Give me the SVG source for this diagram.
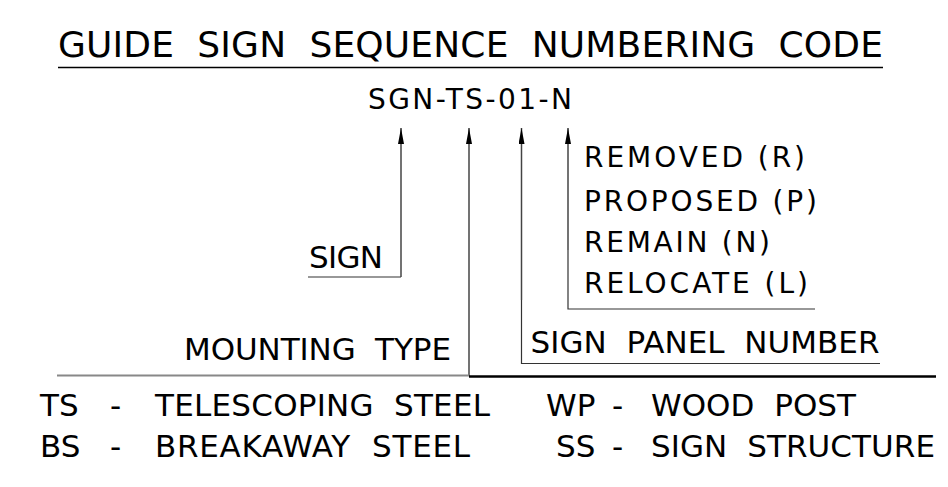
<svg xmlns="http://www.w3.org/2000/svg" width="948" height="487" viewBox="0 0 948 487">
<defs>
<marker id="ah" viewBox="0 0 16 6" refX="16" refY="3" markerWidth="16" markerHeight="6" markerUnits="userSpaceOnUse" orient="auto">
<path d="M0,0 L16,3 L0,6 Z" fill="#000"/>
</marker>
<style>
text{font-family:"DejaVu Sans","Liberation Sans",sans-serif;fill:#000;white-space:pre}
.a{font-size:31px}
.b{font-size:28px}
.ln{stroke:#333;stroke-width:1.2;fill:none}
.ar{stroke:#444;stroke-width:1.5;fill:none}
</style>
</defs>
<rect width="948" height="487" fill="#fff"/>
<g id="title">
<text x="58" y="57" font-size="36" textLength="825" xml:space="preserve">GUIDE  SIGN  SEQUENCE  NUMBERING  CODE</text>
<line x1="58" y1="67.5" x2="883" y2="67.5" stroke="#000" stroke-width="1.5"/>
</g>
<g id="code">
<text class="b" x="368" y="109" textLength="204">SGN-TS-01-N</text>
</g>
<g id="connectors">
<polyline class="ln" points="308,277 401,277"/>
<line class="ar" x1="401" y1="277" x2="401" y2="128" marker-end="url(#ah)"/>
<line class="ar" x1="469" y1="376" x2="469" y2="128" marker-end="url(#ah)"/>
<polyline class="ln" points="880,363.5 521.5,363.5 521.5,300"/>
<line class="ar" x1="521.5" y1="300" x2="521.5" y2="128" marker-end="url(#ah)"/>
<polyline class="ln" points="815,309 568,309 568,250"/>
<line class="ar" x1="568" y1="250" x2="568" y2="128" marker-end="url(#ah)"/>
<line x1="57" y1="375.5" x2="469" y2="375.5" stroke="#888" stroke-width="2"/>
<line x1="469" y1="376.5" x2="936" y2="376.5" stroke="#000" stroke-width="2.5"/>
</g>
<g id="sign">
<text class="a" x="309" y="268" textLength="74">SIGN</text>
</g>
<g id="mounting-type">
<text class="a" x="184" y="360" textLength="267" xml:space="preserve">MOUNTING  TYPE</text>
</g>
<g id="sign-panel-number">
<text class="a" x="530.5" y="353" textLength="349" xml:space="preserve">SIGN  PANEL  NUMBER</text>
</g>
<g id="status">
<text class="b" x="584" y="167" textLength="221" xml:space="preserve">REMOVED (R)</text>
<text class="b" x="584" y="211" textLength="233" xml:space="preserve">PROPOSED (P)</text>
<text class="b" x="584" y="252" textLength="186" xml:space="preserve">REMAIN (N)</text>
<text class="b" x="584" y="293" textLength="224" xml:space="preserve">RELOCATE (L)</text>
</g>
<g id="legend">
<text class="a" x="40" y="416">TS</text>
<text class="a" x="110" y="416">-</text>
<text class="a" x="155" y="416" textLength="335" xml:space="preserve">TELESCOPING  STEEL</text>
<text class="a" x="546" y="416">WP</text>
<text class="a" x="612" y="416">-</text>
<text class="a" x="651" y="416" textLength="205" xml:space="preserve">WOOD  POST</text>
<text class="a" x="40" y="457">BS</text>
<text class="a" x="110" y="457">-</text>
<text class="a" x="155" y="457" textLength="315" xml:space="preserve">BREAKAWAY  STEEL</text>
<text class="a" x="556" y="457">SS</text>
<text class="a" x="612" y="457">-</text>
<text class="a" x="651" y="457" textLength="284" xml:space="preserve">SIGN  STRUCTURE</text>
</g>
</svg>
